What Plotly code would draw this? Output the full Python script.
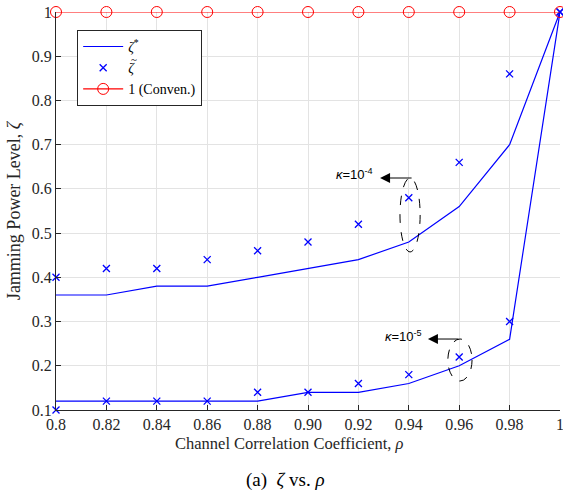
import plotly.graph_objects as go

rho = [0.80, 0.82, 0.84, 0.86, 0.88, 0.90, 0.92, 0.94, 0.96, 0.98, 1.00]
zeta_star_k4 = [0.36, 0.36, 0.38, 0.38, 0.40, 0.42, 0.44, 0.48, 0.56, 0.70, 1.00]
zeta_tilde_k4 = [0.40, 0.42, 0.42, 0.44, 0.46, 0.48, 0.52, 0.58, 0.66, 0.86, 1.00]
zeta_star_k5 = [0.12, 0.12, 0.12, 0.12, 0.12, 0.14, 0.14, 0.16, 0.20, 0.26, 1.00]
zeta_tilde_k5 = [0.10, 0.12, 0.12, 0.12, 0.14, 0.14, 0.16, 0.18, 0.22, 0.30, 1.00]
conven = [1.0] * 11

x_tickvals = [0.80, 0.82, 0.84, 0.86, 0.88, 0.90, 0.92, 0.94, 0.96, 0.98, 1.00]
x_ticktext = ["0.8", "0.82", "0.84", "0.86", "0.88", "0.90", "0.92", "0.94", "0.96", "0.98", "1"]
y_tickvals = [0.1, 0.2, 0.3, 0.4, 0.5, 0.6, 0.7, 0.8, 0.9, 1.0]
y_ticktext = ["0.1", "0.2", "0.3", "0.4", "0.5", "0.6", "0.7", "0.8", "0.9", "1"]

BLUE = "#0000ff"
RED = "#ff0000"
SERIF = "Liberation Serif, Times New Roman, serif"
SANS = "Liberation Sans, Arial, sans-serif"

fig = go.Figure()
fig.add_trace(go.Scatter(x=rho, y=zeta_star_k4, mode="lines", line=dict(color=BLUE, width=1.2),
                         name="<i>ζ</i><sup>*</sup>", cliponaxis=False))
fig.add_trace(go.Scatter(x=rho, y=zeta_star_k5, mode="lines", line=dict(color=BLUE, width=1.2),
                         showlegend=False, cliponaxis=False))
fig.add_trace(go.Scatter(x=rho, y=zeta_tilde_k4, mode="markers",
                         marker=dict(symbol="x-thin", size=7, line=dict(color=BLUE, width=1.3)),
                         name="<i>ζ</i>",
                         cliponaxis=False))
fig.add_trace(go.Scatter(x=rho, y=zeta_tilde_k5, mode="markers",
                         marker=dict(symbol="x-thin", size=7, line=dict(color=BLUE, width=1.3)),
                         showlegend=False, cliponaxis=False))
fig.add_trace(go.Scatter(x=rho, y=conven, mode="lines+markers",
                         line=dict(color=RED, width=1.2),
                         marker=dict(symbol="circle-open", size=11, color=RED, line=dict(width=1)),
                         name="1 (Conven.)", cliponaxis=False))

# tilde accent over the legend's second entry
fig.add_annotation(x=0.155, y=0.882, xref="paper", yref="paper", text="~",
                   showarrow=False, xanchor="center", yanchor="middle",
                   font=dict(family=SERIF, size=11, color="black"))

# ellipses
fig.add_shape(type="circle", xref="x", yref="y",
              x0=0.9365, x1=0.9445, y0=0.541 - 0.0837, y1=0.541 + 0.0837,
              line=dict(color="black", width=1, dash="dash"))
fig.add_shape(type="circle", xref="x", yref="y",
              x0=0.9555, x1=0.9651, y0=0.213 - 0.0475, y1=0.213 + 0.0475,
              line=dict(color="black", width=1, dash="dash"))

# arrows
fig.add_annotation(x=0.9286, y=0.6246, ax=0.9417, ay=0.6246, xref="x", yref="y",
                   axref="x", ayref="y", text="", showarrow=True, arrowhead=2,
                   arrowsize=2, arrowwidth=1, arrowcolor="black")
fig.add_annotation(x=0.9476, y=0.2605, ax=0.9603, ay=0.2605, xref="x", yref="y",
                   axref="x", ayref="y", text="", showarrow=True, arrowhead=2,
                   arrowsize=2, arrowwidth=1, arrowcolor="black")
fig.add_annotation(x=0.9183, y=0.634, xref="x", yref="y", text="<i>κ</i>=10<sup>-4</sup>",
                   showarrow=False, font=dict(family=SANS, size=13, color="black"))
fig.add_annotation(x=0.9377, y=0.267, xref="x", yref="y", text="<i>κ</i>=10<sup>-5</sup>",
                   showarrow=False, font=dict(family=SANS, size=13, color="black"))

# x-axis title and caption
fig.add_annotation(x=0.464, y=-0.083, xref="paper", yref="paper",
                   text="Channel Correlation Coefficient, <i>ρ</i>",
                   showarrow=False, yanchor="middle", font=dict(family=SERIF, size=16.5, color="#262626"))
fig.add_annotation(x=0.456, y=-0.176, xref="paper", yref="paper", text="(a)  <i>ζ</i> vs. <i>ρ</i>",
                   showarrow=False, yanchor="middle", font=dict(family=SERIF, size=19, color="black"))

fig.update_xaxes(range=[0.8, 1.0], tickvals=x_tickvals, ticktext=x_ticktext,
                 showgrid=True, gridcolor="#e3e3e3", gridwidth=1,
                 showline=True, linecolor="#262626", linewidth=1,
                 ticks="inside", ticklen=5, tickcolor="#262626", zeroline=False,
                 ticklabeloverflow="allow", automargin=False,
                 tickfont=dict(family=SERIF, size=16, color="#262626"))
fig.update_yaxes(range=[0.1, 1.0], tickvals=y_tickvals, ticktext=y_ticktext,
                 showgrid=True, gridcolor="#e3e3e3", gridwidth=1,
                 showline=True, linecolor="#262626", linewidth=1,
                 ticks="inside", ticklen=5, tickcolor="#262626", zeroline=False,
                 ticklabeloverflow="allow", automargin=False,
                 tickfont=dict(family=SERIF, size=16, color="#262626"),
                 title=dict(text="Jamming Power Level, <i>ζ</i>",
                            font=dict(family=SERIF, size=18, color="#262626"), standoff=6))

fig.update_layout(width=563, height=494, margin=dict(l=56, r=3, t=12, b=84, autoexpand=False),
                  plot_bgcolor="white", paper_bgcolor="white",
                  legend=dict(x=0.042, y=0.955, xanchor="left", yanchor="top",
                              bordercolor="#262626", borderwidth=1, bgcolor="white",
                              font=dict(family=SERIF, size=14, color="black"),
                              tracegroupgap=0, itemwidth=40))

fig.write_html("out.html")
